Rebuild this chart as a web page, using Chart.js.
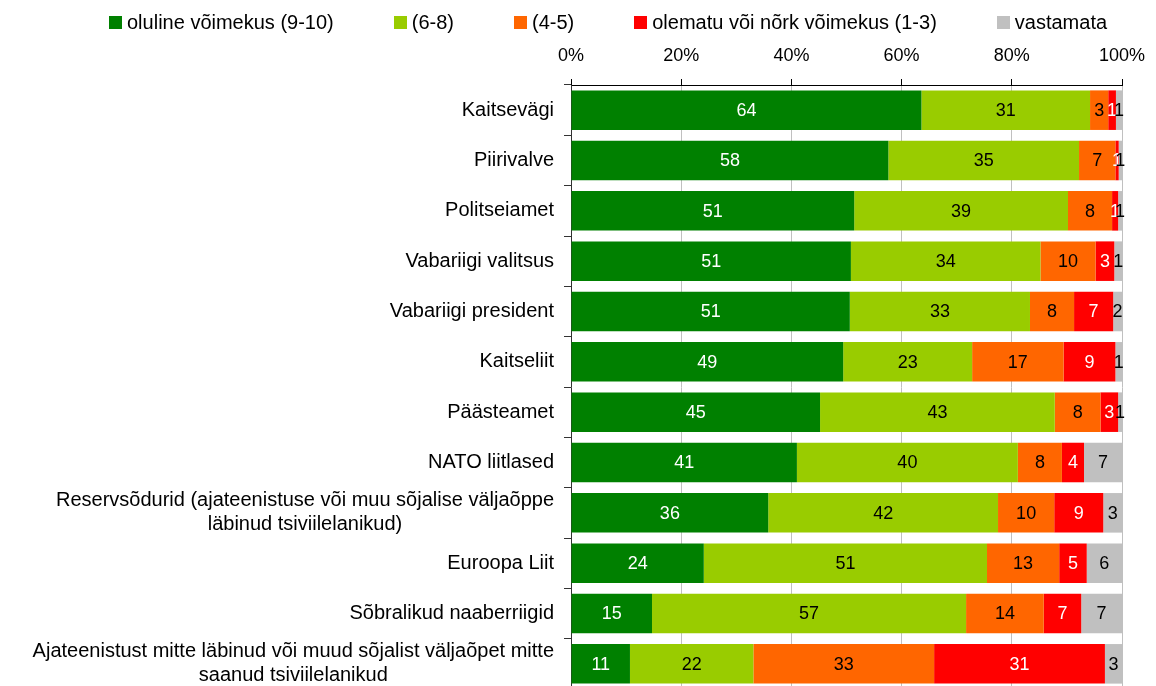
<!DOCTYPE html>
<html>
<head>
<meta charset="utf-8">
<script src="https://cdn.jsdelivr.net/npm/chart.js@4.4.1/dist/chart.umd.min.js"></script>
<style>
  html, body { margin: 0; padding: 0; background: #fff; overflow: hidden; width: 1156px; height: 686px; }
  #wrap { position: relative; width: 1156px; height: 689px; }
  #legend { position: absolute; left: 109px; top: 11px; display: flex; white-space: nowrap;
            font: 20px "Liberation Sans", Arial, sans-serif; color: #000; }
  .item { display: flex; align-items: center; margin-right: 60px; line-height: 23px; }
  .box { width: 13px; height: 13px; margin-right: 5px; }
</style>
</head>
<body>
<div id="wrap">
  <canvas id="chart" width="1156" height="689"></canvas>
  <div id="legend"></div>
</div>
<script>
// andmed (protsendid)
const categories = [
  'Kaitsevägi',
  'Piirivalve',
  'Politseiamet',
  'Vabariigi valitsus',
  'Vabariigi president',
  'Kaitseliit',
  'Päästeamet',
  'NATO liitlased',
  ['Reservsõdurid (ajateenistuse või muu sõjalise väljaõppe', 'läbinud tsiviilelanikud)'],
  'Euroopa Liit',
  'Sõbralikud naaberriigid',
  ['Ajateenistust mitte läbinud või muud sõjalist väljaõpet mitte', 'saanud tsiviilelanikud']
];
const seriesNames = ['oluline võimekus (9-10)', '(6-8)', '(4-5)', 'olematu või nõrk võimekus (1-3)', 'vastamata'];

const strong   = [63.6, 57.6, 51.4, 50.8, 50.6, 49.4, 45.2, 41.0, 35.8, 24.1, 14.7, 10.7];
const mid      = [30.6, 34.6, 38.8, 34.4, 32.7, 23.4, 42.6, 40.1, 41.7, 51.4, 57.0, 22.4];
const low      = [3.3, 6.6, 8.0, 10.0, 8.0, 16.6, 8.3, 8.0, 10.2, 13.1, 14.1, 32.8];
const weak     = [1.4, 0.6, 1.1, 3.4, 7.1, 9.4, 3.2, 4.0, 8.9, 5.0, 6.8, 31.0];
const noAnswer = [1.1, 0.6, 0.7, 1.4, 1.6, 1.2, 0.7, 6.9, 3.4, 6.4, 7.4, 3.1];

const xTicks = [0, 20, 40, 60, 80, 100];

const colors = ['#008000', '#99cc00', '#ff6600', '#ff0000', '#c0c0c0'];
const labelColors = ['#ffffff', '#000000', '#000000', '#ffffff', '#000000'];
const FONT = '"Liberation Sans", Arial, sans-serif';

// legend (Exceli moodi)
const legendEl = document.getElementById('legend');
legendEl.innerHTML = seriesNames.map((n, i) => `
  <div class="item"><span class="box" style="background:${colors[i]}"></span>${n}</div>
`).join('');

// väärtused ribade sisse
const valueLabels = {
  id: 'valueLabels',
  afterDatasetsDraw(chart) {
    const ctx = chart.ctx;
    ctx.save();
    ctx.font = '18px ' + FONT;
    ctx.textAlign = 'center';
    ctx.textBaseline = 'middle';
    chart.data.datasets.forEach((ds, di) => {
      const meta = chart.getDatasetMeta(di);
      meta.data.forEach((bar, i) => {
        ctx.fillStyle = labelColors[di];
        ctx.fillText(String(Math.round(ds.data[i])), (bar.x + bar.base) / 2, bar.y + 1);
      });
    });
    ctx.restore();
  }
};

// kategooriate nimed: mitmerealised keskele joondatud nagu Excelis
const categoryLabels = {
  id: 'categoryLabels',
  afterDraw(chart) {
    const ctx = chart.ctx;
    const y = chart.scales.y;
    const right = chart.chartArea.left - 17;
    ctx.save();
    ctx.font = '20px ' + FONT;
    ctx.fillStyle = '#000';
    ctx.textAlign = 'center';
    ctx.textBaseline = 'middle';
    categories.forEach((lab, i) => {
      const lines = Array.isArray(lab) ? lab : [lab];
      const w = Math.max(...lines.map(l => ctx.measureText(l).width));
      const cy = y.getPixelForValue(i);
      lines.forEach((l, k) => {
        ctx.fillText(l, right - w / 2, cy + (k - (lines.length - 1) / 2) * 24);
      });
    });
    ctx.restore();
  }
};

const series = [strong, mid, low, weak, noAnswer];

new Chart(document.getElementById('chart').getContext('2d'), {
  type: 'bar',
  data: {
    labels: categories,
    datasets: series.map((d, i) => ({
      label: seriesNames[i],
      data: d,
      backgroundColor: colors[i],
      borderWidth: 0,
      categoryPercentage: 0.786,
      barPercentage: 1
    }))
  },
  options: {
    indexAxis: 'y',
    responsive: false,
    animation: false,
    layout: { padding: { left: 0, right: 34, top: 0, bottom: 0 } },
    plugins: { legend: { display: false }, tooltip: { enabled: false } },
    scales: {
      x: {
        position: 'top',
        stacked: true,
        min: 0,
        max: 100,
        afterBuildTicks(scale) { scale.ticks = xTicks.map(v => ({ value: v })); },
        afterFit(scale) {
          scale.height = 85;
          scale.paddingLeft = 0;
          scale.paddingRight = 0;
        },
        ticks: {
          callback: v => v + '%',
          color: '#000',
          font: { size: 18, family: FONT },
          padding: 12,
          maxRotation: 0
        },
        grid: { color: '#c0c0c0', tickColor: '#000', tickLength: 6, drawTicks: true },
        border: { color: '#000', width: 1 }
      },
      y: {
        stacked: true,
        afterFit(scale) { scale.width = 571; },
        ticks: { display: false },
        grid: { offset: true, color: 'transparent', tickColor: '#333', tickLength: 7, drawTicks: true },
        border: { color: '#333', width: 1 }
      }
    }
  },
  plugins: [valueLabels, categoryLabels]
});
</script>
</body>
</html>
